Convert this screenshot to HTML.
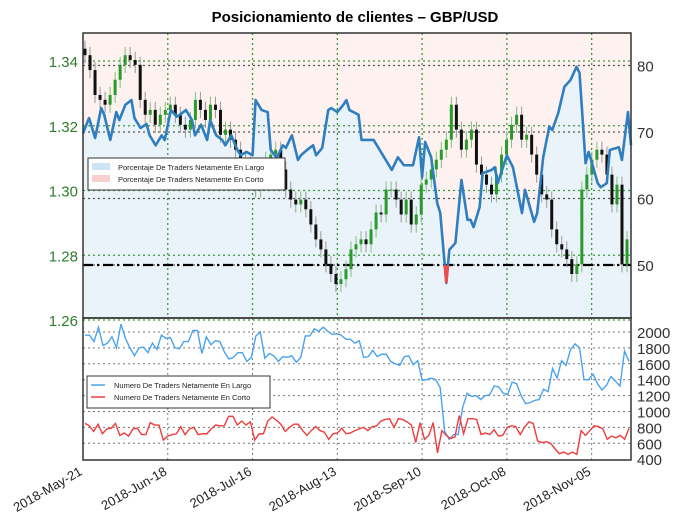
<!DOCTYPE html>
<html><head><meta charset="utf-8"><style>
body{margin:0;background:#fff;width:680px;height:519px;overflow:hidden}
svg{font-family:"Liberation Sans",sans-serif}
</style></head><body>
<svg id="c" width="680" height="519"></svg>
<script>
const dateLabels=["2018-May-21","2018-Jun-18","2018-Jul-16","2018-Aug-13","2018-Sep-10","2018-Oct-08","2018-Nov-05"];
const dateDays=[0,28,56,84,112,140,168];
const priceTicks=[1.34,1.32,1.30,1.28,1.26];
const pctTicks=[80,70,60,50];
const countTicks=[2000,1800,1600,1400,1200,1000,800,600,400];
const prices=[1.3418,1.3372,1.3295,1.328,1.3265,1.3295,1.3342,1.3388,1.3418,1.3403,1.3388,1.328,1.3234,1.3249,1.3203,1.3234,1.3249,1.3265,1.3234,1.3203,1.3188,1.3218,1.328,1.3249,1.3218,1.3265,1.3249,1.3172,1.3188,1.3157,1.3126,1.3095,1.308,1.3034,1.3003,1.3049,1.3095,1.3111,1.3126,1.3065,1.3003,1.2972,1.2957,1.2972,1.2942,1.2895,1.2849,1.2818,1.2772,1.2742,1.2711,1.2726,1.2757,1.2818,1.2834,1.2849,1.2834,1.288,1.2932,1.2926,1.3003,1.3003,1.2972,1.2926,1.2972,1.2895,1.2926,1.3018,1.3034,1.3065,1.3095,1.3126,1.3157,1.3265,1.3188,1.3126,1.3157,1.3188,1.308,1.3049,1.3018,1.2988,1.3049,1.3111,1.3157,1.3203,1.3234,1.3157,1.3172,1.3111,1.3049,1.2988,1.2972,1.288,1.2834,1.2818,1.2788,1.2742,1.2772,1.3003,1.3049,1.3095,1.3126,1.3111,1.3049,1.2957,1.3018,1.2772,1.2849];
const pctDays=[0,2,4,6,7,9,11,12,14,16,17,19,21,22,24,26,27,29,31,32,34,36,37,39,41,42,44,46,47,49,51,52,54,56,57,59,61,62,64,66,67,69,71,72,74,76,77,79,81,82,84,86,87,88,91,92,96,102,104,106,109,111,112,113,115,117,118,120,121,123,125,127,128,129,131,132,135,136,137,140,142,145,146,149,150,152,154,155,157,159,161,163,164,166,167,168,170,171,173,174,177,178,180,181];
const pctLong=[69.8,72.1,69.1,73.6,72.6,68.8,73.0,71.8,74.1,74.8,72.1,70.6,71.2,69.5,68.0,69.5,68.8,73.3,72.3,72.6,73.3,71.8,69.5,71.1,68.8,71.8,69.5,68.8,68.0,69.5,67.3,66.5,67.0,66.5,74.8,73.3,73.0,67.3,66.1,68.0,67.6,69.5,65.8,66.5,67.3,68.0,66.5,67.6,73.3,73.6,73.0,74.1,74.8,73.3,72.6,68.8,68.8,64.3,66.2,65.0,65.0,69.2,63.2,68.5,66.2,59.3,57.8,47.3,52.3,53.3,62.8,56.8,56.8,55.7,58.7,63.8,64.3,64.7,62.3,66.5,64.7,57.8,61.3,56.5,57.8,66.2,70.8,70.3,72.9,76.8,77.8,79.8,78.9,65.3,67.0,65.5,62.3,61.7,62.3,67.3,67.7,65.8,73.0,68.0];
const longCount=[1960,1960,1880,2060,1830,1860,1940,1800,2100,1920,1800,1700,1800,1810,1740,1860,1780,1960,1920,1930,1800,1790,1880,1880,2020,2020,1730,1940,1840,1890,1880,1750,1660,1680,1740,1740,1630,1680,1950,2000,1670,1730,1700,1630,1690,1680,1700,1620,1680,1950,1950,2040,2010,2060,2010,1970,1980,1960,1910,1910,1860,1890,1680,1690,1770,1690,1720,1720,1630,1600,1580,1690,1700,1590,1640,1390,1400,1420,1400,1300,750,650,710,710,1050,1230,1190,1200,1150,1200,1210,1320,1310,1230,1210,1370,1350,1200,1100,1110,1140,1150,1280,1250,1540,1420,1640,1580,1780,1850,1800,1400,1400,1470,1350,1270,1330,1440,1380,1320,1760,1630];
const shortCount=[850,820,750,840,720,780,790,850,700,730,690,780,790,710,710,860,830,830,640,690,710,720,810,710,780,800,710,720,720,780,830,820,820,940,940,830,880,830,870,640,720,720,880,930,890,840,750,800,840,840,760,700,760,810,760,740,650,720,730,790,720,730,760,780,800,760,810,820,880,900,910,800,910,900,870,830,610,860,650,700,860,480,760,700,660,680,950,720,910,910,900,710,730,710,770,690,700,800,820,810,710,800,870,850,630,610,620,600,530,470,490,460,490,460,760,700,760,820,810,780,650,690,670,700,650,790];

const NS="http://www.w3.org/2000/svg",svg=document.getElementById('c');
function el(t,a,p){const e=document.createElementNS(NS,t);for(const k in a)e.setAttribute(k,a[k]);(p||svg).appendChild(e);return e;}
const L=83,R=631,T1=33,B1=318,B2=460,MAXD=181;
const xDay=d=>L+d*(R-L)/MAXD;
const yPrice=p=>61+(1.34-p)/0.02*64.75;
const yPct=v=>265-(v-50)*6.65;
const yCnt=v=>332+(2000-v)*15.9/200;

// title
let t=el('text',{x:355,y:22,'text-anchor':'middle','font-size':15,'font-weight':'bold',fill:'#000'});t.textContent='Posicionamiento de clientes – GBP/USD';



// top background
const bg=el('rect',{x:L,y:T1,width:R-L,height:B1-T1,fill:'#fdf2ef'});


let pts=pctDays.map((d,i)=>xDay(d)+','+yPct(pctLong[i]));
const area=el('polygon',{points:xDay(pctDays[0])+','+B1+' '+pts.join(' ')+' '+xDay(pctDays[pctDays.length-1])+','+B1,fill:'#ebf3fa'});



// grids
priceTicks.forEach(p=>{el('line',{x1:L,x2:R,y1:yPrice(p),y2:yPrice(p),stroke:'#3a9a3a','stroke-dasharray':'2,3','stroke-width':1.3});
 const tx=el('text',{x:78,y:yPrice(p)+6,'text-anchor':'end','font-size':15,fill:'#2e7d2e'});tx.textContent=p.toFixed(2);
 
 });
pctTicks.forEach(v=>{el('line',{x1:L,x2:R,y1:yPct(v),y2:yPct(v),stroke:'#555','stroke-dasharray':'2,3','stroke-width':1.2});
 const tx=el('text',{x:637,y:yPct(v)+6,'font-size':15,fill:'#333'});tx.textContent=v;
 
 });
dateDays.forEach((d,i)=>{if(i>0){el('line',{x1:xDay(d),x2:xDay(d),y1:T1,y2:B1,stroke:'#3a9a3a','stroke-dasharray':'2,3','stroke-width':1.3});
 el('line',{x1:xDay(d),x2:xDay(d),y1:B1,y2:B2,stroke:'#777','stroke-dasharray':'2,3'});}
 const tx=el('text',{x:xDay(d),y:B2+14,'text-anchor':'end','font-size':13,fill:'#222',transform:`rotate(-30 ${xDay(d)} ${B2+14})`});tx.textContent=dateLabels[i];
 
 });
const ref=el('line',{x1:L,x2:R,y1:yPct(50),y2:yPct(50),stroke:'#000','stroke-width':2.2,'stroke-dasharray':'10,4,2,4'});



// candles
const step=(R-L-6)/(prices.length-1);
prices.forEach((c,i)=>{const o=i?prices[i-1]:c+0.002;const x=L+2+i*step;const up=c>=o;
 const hi=Math.max(o,c)+0.0025,lo=Math.min(o,c)-0.0025;
 el('line',{x1:x,x2:x,y1:yPrice(hi),y2:yPrice(lo),stroke:up?'#7fbf7f':'#999','stroke-width':1});
 const b=el('rect',{x:x-1.5,y:yPrice(Math.max(o,c)),width:3,height:Math.max(1,Math.abs(yPrice(o)-yPrice(c))),fill:up?'#2a9a2a':'#111'});
 
 });

// pct line + red part
const cp=el('clipPath',{id:'below'});el('rect',{x:L,y:yPct(50),width:R-L,height:B1-yPct(50)},cp);
const pl=el('polyline',{points:pts.join(' '),fill:'none',stroke:'#2f7fc0','stroke-width':2.6,'stroke-linejoin':'round'});


const pr=el('polyline',{points:pts.join(' '),fill:'none',stroke:'#f04a4a','stroke-width':2.6,'clip-path':'url(#below)'});



// bottom panel grid
countTicks.forEach(v=>{if(v>400)el('line',{x1:L,x2:R,y1:yCnt(v),y2:yCnt(v),stroke:'#777','stroke-dasharray':'2,3'});
 const tx=el('text',{x:637,y:yCnt(v)+6,'font-size':15,fill:'#333'});tx.textContent=v;
 
 });
function series(arr,col,name){const s=(R-L-4)/(arr.length-1);
 const p=el('polyline',{points:arr.map((v,i)=>(L+2+i*s)+','+yCnt(v)).join(' '),fill:'none',stroke:col,'stroke-width':1.4});
 
 }
series(longCount,'#4aa3f0','long-count-line');
series(shortCount,'#f03c3c','short-count-line');

// frames
el('rect',{x:L,y:T1,width:R-L,height:B1-T1,fill:'none',stroke:'#333','stroke-width':1.5});
el('rect',{x:L,y:B1,width:R-L,height:B2-B1,fill:'none',stroke:'#333','stroke-width':1.5});

// legends
function legend(x,y,w,items,name,swatch){const g=el('g',{});
 
 el('rect',{x:x,y:y,width:w,height:32,fill:'#fff',stroke:'#333'},g);
 items.forEach((it,i)=>{if(swatch)el('rect',{x:x+4,y:y+5+i*12,width:18,height:7,fill:it[1],opacity:0.5},g);
  else el('line',{x1:x+4,x2:x+18,y1:y+9+i*12,y2:y+9+i*12,stroke:it[1],'stroke-width':1.5},g);
  const tx=el('text',{x:x+(swatch?30:27),y:y+12+i*12,'font-size':7.5,fill:'#222'},g);tx.textContent=it[0];});}
legend(88,158,197,[['Porcentaje De Traders Netamente En Largo','#9ccaf0'],['Porcentaje De Traders Netamente En Corto','#f5a0a0']],'percent-legend',true);
legend(87,376,183,[['Numero De Traders Netamente En Largo','#4aa3f0'],['Numero De Traders Netamente En Corto','#f03c3c']],'count-legend',false);
</script></body></html>
